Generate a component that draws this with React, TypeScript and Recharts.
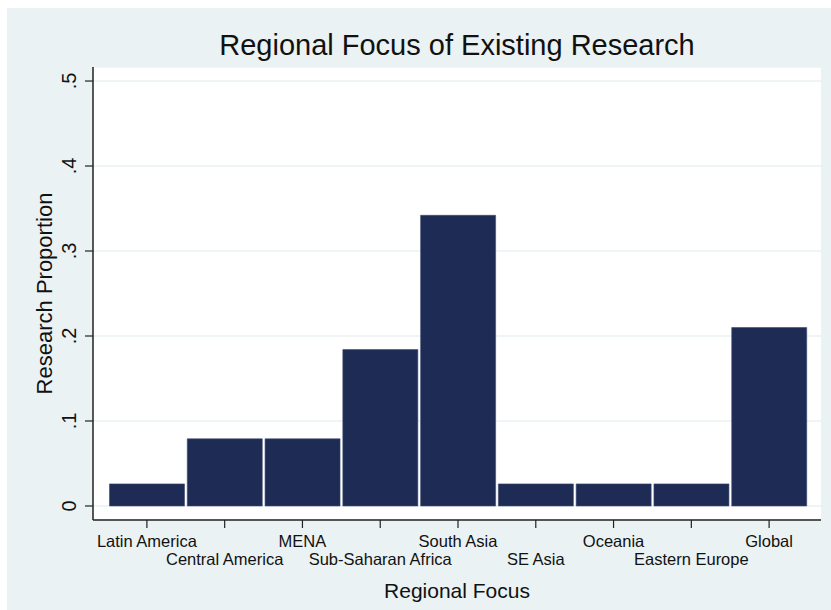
import { BarChart, Bar, XAxis, YAxis, CartesianGrid } from 'recharts'

const regions = [
  'Latin America',
  'Central America',
  'MENA',
  'Sub-Saharan Africa',
  'South Asia',
  'SE Asia',
  'Oceania',
  'Eastern Europe',
  'Global',
]

const proportions = [0.026, 0.079, 0.079, 0.184, 0.342, 0.026, 0.026, 0.026, 0.21]

const yTicks = [0, 0.1, 0.2, 0.3, 0.4, 0.5]

const data = regions.map((name, i) => ({ name, value: proportions[i] }))

const FONT = '"Liberation Sans", Arial, Helvetica, sans-serif'
const BG = '#eaf2f3'
const NAVY = '#1e2c55'

function formatTick(v: number) {
  if (v === 0) return '0'
  return String(Math.round(v * 10) / 10).replace(/^0\./, '.')
}

function XTick(props: any) {
  const { x, y, payload } = props
  const row = payload.index % 2
  return (
    <text
      x={x}
      y={y + 17 + row * 18}
      textAnchor="middle"
      fontFamily={FONT}
      fontSize={16.5}
      fill="#111"
    >
      {payload.value}
    </text>
  )
}

function YTick(props: any) {
  const { x, y, payload } = props
  const tx = x - 7
  return (
    <text
      x={tx}
      y={y}
      transform={`rotate(-90, ${tx}, ${y})`}
      textAnchor="middle"
      fontFamily={FONT}
      fontSize={20}
      fill="#111"
    >
      {formatTick(payload.value)}
    </text>
  )
}

export default function App() {
  return (
    <div style={{ position: 'fixed', left: 0, top: 0, width: 831, height: 610, background: '#fff' }}>
      <div style={{ position: 'absolute', left: 7, top: 8, right: 0, bottom: 0, background: BG }} />
      <div
        style={{
          position: 'absolute',
          left: 93,
          width: 728,
          top: 28,
          textAlign: 'center',
          fontFamily: FONT,
          fontSize: 29,
          color: '#111',
          lineHeight: '34px',
        }}
      >
        Regional Focus of Existing Research
      </div>
      <div style={{ position: 'absolute', left: 0, top: 0 }}>
        <BarChart
          width={831}
          height={610}
          data={data}
          margin={{ top: 67, right: 10, left: 0, bottom: 0 }}
          barCategoryGap={1.5}
        >
          <CartesianGrid horizontal vertical={false} stroke={BG} strokeWidth={1.5} fill="#fff" />
          <XAxis
            dataKey="name"
            height={90}
            interval={0}
            padding={{ left: 15, right: 13 }}
            tickSize={8}
            axisLine={{ stroke: '#222', strokeWidth: 1.5 }}
            tickLine={{ stroke: '#222', strokeWidth: 1.2 }}
            tick={<XTick />}
            label={{
              value: 'Regional Focus',
              position: 'insideBottom',
              offset: 12,
              fontFamily: FONT,
              fontSize: 21,
              fill: '#111',
            }}
          />
          <YAxis
            width={93}
            domain={[-0.0165, 0.5165]}
            ticks={yTicks}
            allowDataOverflow
            tickSize={8}
            axisLine={{ stroke: '#222', strokeWidth: 1.5 }}
            tickLine={{ stroke: '#222', strokeWidth: 1.2 }}
            tick={<YTick />}
            label={{
              value: 'Research Proportion',
              angle: -90,
              position: 'insideLeft',
              offset: 44,
              fontFamily: FONT,
              fontSize: 22,
              fill: '#111',
              style: { textAnchor: 'middle' },
            }}
          />
          <Bar dataKey="value" fill={NAVY} stroke="#3b4a72" strokeWidth={0.6} isAnimationActive={false} />
        </BarChart>
      </div>
    </div>
  )
}
